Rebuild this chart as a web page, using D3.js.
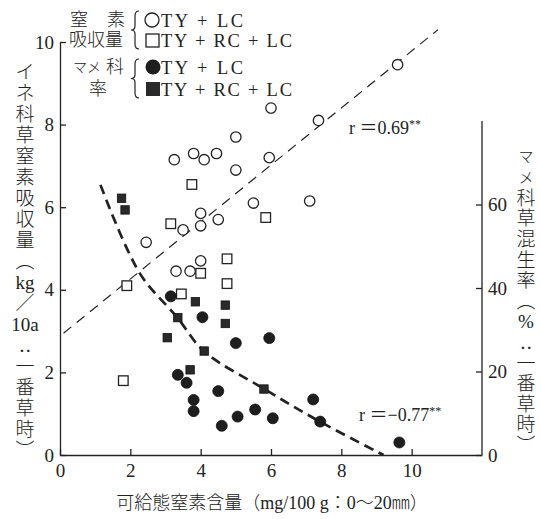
<!DOCTYPE html>
<html>
<head>
<meta charset="utf-8">
<script src="https://cdn.jsdelivr.net/npm/d3@7"></script>
<style>
  body { margin: 0; background: #fff; }
  svg { display: block; }
</style>
</head>
<body>
<svg id="chart" width="540" height="519"></svg>
<script>
// values
// N uptake (left axis, kg/10a) vs available N (mg/100g)
const nUptakeTYLC = [
  [9.6, 9.45], [6.0, 8.4], [7.35, 8.1], [5.0, 7.7], [3.25, 7.15], [3.8, 7.3],
  [4.1, 7.15], [4.45, 7.3], [5.95, 7.2], [5.0, 6.9], [5.5, 6.1], [7.1, 6.15],
  [4.0, 5.85], [4.0, 5.55], [4.5, 5.7], [3.5, 5.45], [2.45, 5.15], [4.0, 4.7],
  [3.3, 4.45], [3.7, 4.45]
];
const nUptakeTYRCLC = [
  [3.75, 6.55], [3.15, 5.6], [5.85, 5.75], [4.75, 4.75], [4.0, 4.4],
  [1.9, 4.1], [4.75, 4.15], [3.45, 3.9], [1.8, 1.8]
];
// legume ratio (right axis, %)
const legumeTYLC = [
  [3.15, 38], [4.05, 33], [5.0, 26.8], [5.95, 28], [3.35, 19.2], [3.6, 17.3],
  [4.5, 15.3], [3.8, 13.2], [3.8, 10.5], [7.2, 13.3], [5.55, 10.9], [5.05, 9.2],
  [6.05, 8.8], [4.6, 7.0], [7.4, 8.0], [9.65, 3.0]
];
const legumeTYRCLC = [
  [1.75, 61.5], [1.85, 58.7], [3.85, 36.7], [4.7, 35.9], [3.35, 32.9],
  [4.7, 31.5], [3.05, 28.1], [4.1, 24.9], [3.7, 20.4], [5.8, 15.8]
];
// fitted lines as drawn in the figure
const nTrend = [[0.1, 2.95], [10.75, 10.3]];
const legumeTrend = [[1.15, 64.7], [2.27, 43.5], [3.34, 32.9], [4.09, 24.9], [5.81, 15.8], [7.39, 8.0], [9.2, 0]];

const xTicks = [0, 2, 4, 6, 8, 10];
const yLeftTicks = [0, 2, 4, 6, 8, 10];
const yRightTicks = [0, 20, 40, 60];

const leftTitle = ["イ", "ネ", "科", "草", "窒", "素", "吸", "収", "量", "︵", "kg", "／", "10a", "‥", "一", "番", "草", "時", "︶"];
const rightTitle = ["マ", "メ", "科", "草", "混", "生", "率", "︵", "%", "‥", "一", "番", "草", "時", "︶"];

const serif = "'Liberation Serif', 'DejaVu Serif', 'Noto Sans CJK JP', serif";
const ink = "#222";

const svg = d3.select("#chart");
svg.append("rect").attr("width", 540).attr("height", 519).attr("fill", "#fff");

const x = d3.scaleLinear().domain([0, 12]).range([60, 482]);
const yL = d3.scaleLinear().domain([0, 10]).range([455, 42]);
const yR = d3.scaleLinear().domain([0, 80]).range([455, 121]);

// axes
const gx = svg.append("g").attr("transform", "translate(0,455)")
  .call(d3.axisBottom(x).tickValues(xTicks).tickSize(-6).tickSizeOuter(0).tickPadding(8));
const gl = svg.append("g").attr("transform", "translate(60,0)")
  .call(d3.axisLeft(yL).tickValues(yLeftTicks).tickSize(-6).tickSizeOuter(0).tickPadding(6));
const gr = svg.append("g").attr("transform", "translate(482,0)")
  .call(d3.axisRight(yR).tickValues(yRightTicks).tickSize(-6).tickSizeOuter(0).tickPadding(6));
gr.select(".domain").attr("d", `M0,${yR(0)}V${yR(80)}`);

[gx, gl, gr].forEach(g => {
  g.selectAll("path, line").attr("stroke", ink).attr("stroke-width", 1.3);
  g.selectAll("text").attr("fill", ink).style("font-family", serif).style("font-size", "19px");
});
gx.selectAll("text").attr("dy", "0.75em");

// regression lines
const lineL = d3.line().x(d => x(d[0])).y(d => yL(d[1]));
const lineR = d3.line().x(d => x(d[0])).y(d => yR(d[1])).curve(d3.curveCatmullRom.alpha(0.5));

svg.append("path").datum(nTrend).attr("d", lineL)
  .attr("fill", "none").attr("stroke", ink).attr("stroke-width", 1.2)
  .attr("stroke-dasharray", "10,7");
svg.append("path").datum(legumeTrend).attr("d", lineR)
  .attr("fill", "none").attr("stroke", ink).attr("stroke-width", 2.7)
  .attr("stroke-dasharray", "10,6");

// points
svg.append("g").selectAll("circle").data(nUptakeTYLC).join("circle")
  .attr("cx", d => x(d[0])).attr("cy", d => yL(d[1])).attr("r", 5.2)
  .attr("fill", "#fff").attr("stroke", ink).attr("stroke-width", 1.3);
svg.append("g").selectAll("rect").data(nUptakeTYRCLC).join("rect")
  .attr("x", d => x(d[0]) - 4.8).attr("y", d => yL(d[1]) - 4.8)
  .attr("width", 9.6).attr("height", 9.6)
  .attr("fill", "#fff").attr("stroke", ink).attr("stroke-width", 1.3);
svg.append("g").selectAll("circle").data(legumeTYLC).join("circle")
  .attr("cx", d => x(d[0])).attr("cy", d => yR(d[1])).attr("r", 5.5)
  .attr("fill", "#1e1e1e").attr("stroke", "#111").attr("stroke-width", 0.8);
svg.append("g").selectAll("rect").data(legumeTYRCLC).join("rect")
  .attr("x", d => x(d[0]) - 4.2).attr("y", d => yR(d[1]) - 4.2)
  .attr("width", 8.4).attr("height", 8.4)
  .attr("fill", "#2a2a2a").attr("stroke", "#111").attr("stroke-width", 0.8);

// r annotations
function rLabel(px, py, txt) {
  const t = svg.append("text").attr("x", px).attr("y", py)
    .attr("fill", ink).style("font-family", serif).style("font-size", "18px");
  t.append("tspan").text(txt);
  t.append("tspan").attr("dy", -6).style("font-size", "12px").text("**");
}
rLabel(349, 134, "r ＝0.69");
rLabel(359, 421, "r ＝−0.77");

// vertical axis titles
function vTitle(chars, cx, y0, step) {
  svg.append("g").selectAll("text").data(chars).join("text")
    .attr("x", cx).attr("y", (d, i) => y0 + i * step)
    .attr("text-anchor", "middle").attr("dominant-baseline", "central")
    .attr("fill", ink).style("font-family", serif).style("font-weight", 300)
    .style("font-size", d => (d === "マ" || d === "メ") ? "15px" : "19px")
    .text(d => d);
}
vTitle(leftTitle, 25, 72, 21);
vTitle(rightTitle, 526, 157, 20.6);

// x title
svg.append("text").attr("x", 272).attr("y", 509).attr("text-anchor", "middle")
  .attr("fill", ink).style("font-family", serif).style("font-size", "18px").style("font-weight", 300)
  .text("可給態窒素含量（mg/100 g：0～20㎜）");

// legend
const legend = svg.append("g");
function brace(bx, y0, y1) {
  const ym = (y0 + y1) / 2;
  legend.append("path")
    .attr("d", `M${bx + 4},${y0} Q${bx},${y0} ${bx},${y0 + 5} L${bx},${ym - 4} Q${bx},${ym} ${bx - 4},${ym} Q${bx},${ym} ${bx},${ym + 4} L${bx},${y1 - 5} Q${bx},${y1} ${bx + 4},${y1}`)
    .attr("fill", "none").attr("stroke", ink).attr("stroke-width", 1.2);
}
brace(135, 11, 49);
brace(135, 59, 98);

const lgText = (px, py, txt, size) => legend.append("text").attr("x", px).attr("y", py)
  .attr("dominant-baseline", "central").attr("fill", ink).style("font-weight", 300)
  .style("font-family", serif).style("font-size", size).text(txt);
lgText(70, 20, "窒", "18px");
lgText(107, 20, "素", "18px");
lgText(69, 40, "吸収量", "18px");
lgText(73, 67, "マメ", "14px");
lgText(106, 67, "科", "18px");
lgText(89, 89, "率", "18px");

legend.append("circle").attr("cx", 152).attr("cy", 20).attr("r", 7)
  .attr("fill", "#fff").attr("stroke", ink).attr("stroke-width", 1.3);
legend.append("rect").attr("x", 146).attr("y", 34).attr("width", 13).attr("height", 13)
  .attr("fill", "#fff").attr("stroke", ink).attr("stroke-width", 1.3);
legend.append("circle").attr("cx", 153).attr("cy", 67).attr("r", 7.5).attr("fill", "#1e1e1e");
legend.append("rect").attr("x", 146).attr("y", 82).attr("width", 14).attr("height", 14).attr("fill", "#2a2a2a");

const lgSeries = (py, txt, w) => legend.append("text").attr("x", 161).attr("y", py)
  .attr("dominant-baseline", "central").attr("fill", ink)
  .attr("textLength", w).attr("lengthAdjust", "spacing")
  .style("font-family", "'Liberation Serif', serif").style("font-size", "18.5px").text(txt);
lgSeries(21, "TY + LC", 82);
lgSeries(41, "TY + RC + LC", 131);
lgSeries(68, "TY + LC", 82);
lgSeries(90, "TY + RC + LC", 131);
</script>
</body>
</html>
